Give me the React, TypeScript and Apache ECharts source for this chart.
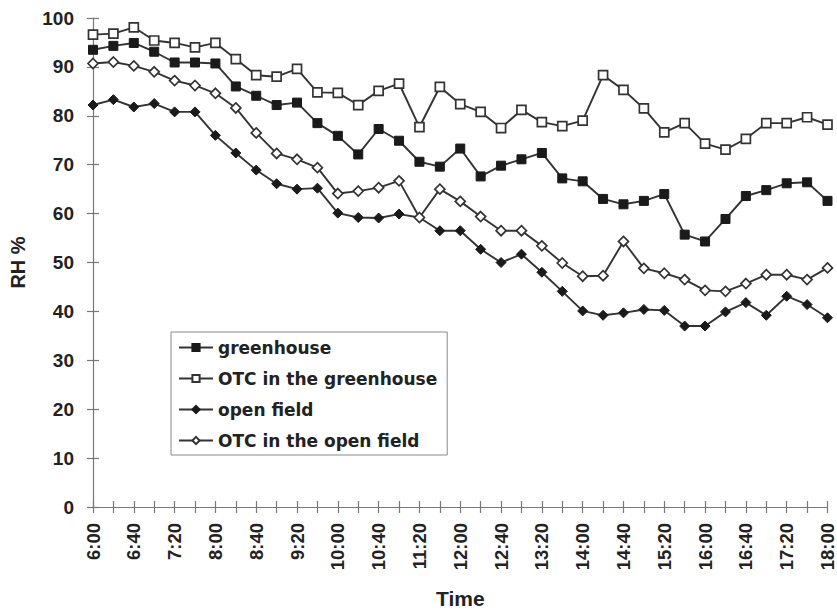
import React, { useEffect, useRef } from "react";
import * as echarts from "echarts";

const times = [
  "6:00", "6:20", "6:40", "7:00", "7:20", "7:40", "8:00", "8:20", "8:40", "9:00",
  "9:20", "9:40", "10:00", "10:20", "10:40", "11:00", "11:20", "11:40", "12:00", "12:20",
  "12:40", "13:00", "13:20", "13:40", "14:00", "14:20", "14:40", "15:00", "15:20", "15:40",
  "16:00", "16:20", "16:40", "17:00", "17:20", "17:40", "18:00",
];

const greenhouse = [
  93.5, 94.3, 94.9, 93.1, 90.9, 90.9, 90.7, 86.0, 84.1, 82.2,
  82.7, 78.5, 75.9, 72.1, 77.3, 74.9, 70.6, 69.6, 73.3, 67.6,
  69.8, 71.1, 72.4, 67.2, 66.6, 63.0, 61.9, 62.6, 64.0, 55.7,
  54.3, 58.9, 63.6, 64.8, 66.2, 66.4, 62.6,
];

const otcGreenhouse = [
  96.6, 96.8, 98.1, 95.4, 94.9, 94.0, 94.9, 91.6, 88.3, 88.0,
  89.6, 84.8, 84.7, 82.2, 85.1, 86.6, 77.7, 85.9, 82.4, 80.8,
  77.5, 81.2, 78.7, 77.9, 79.0, 88.3, 85.3, 81.5, 76.6, 78.5,
  74.3, 73.1, 75.3, 78.5, 78.5, 79.7, 78.2,
];

const openField = [
  82.2, 83.3, 81.8, 82.5, 80.8, 80.8, 76.0, 72.4, 68.9, 66.1,
  65.0, 65.2, 60.1, 59.2, 59.1, 59.9, 59.2, 56.5, 56.5, 52.7,
  50.0, 51.7, 48.0, 44.1, 40.1, 39.2, 39.7, 40.4, 40.2, 37.0,
  37.0, 39.9, 41.8, 39.2, 43.1, 41.4, 38.7,
];

const otcOpenField = [
  90.7, 91.0, 90.2, 89.0, 87.2, 86.2, 84.6, 81.6, 76.5, 72.3,
  71.1, 69.4, 64.1, 64.6, 65.3, 66.7, 59.2, 65.0, 62.5, 59.4,
  56.5, 56.5, 53.4, 49.9, 47.2, 47.3, 54.3, 48.8, 47.8, 46.5,
  44.3, 44.1, 45.7, 47.5, 47.5, 46.5, 48.9,
];

const seriesNames = [
  "greenhouse",
  "OTC in the greenhouse",
  "open field",
  "OTC in the open field",
];

const TICK_FONT = "Liberation Sans";
const LEGEND_FONT = "DejaVu Sans";
const AXIS_COLOR = "#777";
const LINE_COLOR = "#333";
const TEXT_COLOR = "#222";

export default function App() {
  const ref = useRef<HTMLDivElement>(null);

  useEffect(() => {
    if (!ref.current) return;
    const chart = echarts.init(ref.current, null, { renderer: "svg" });

    const mkSeries = (
      name: string,
      data: number[],
      symbol: string,
      filled: boolean,
      size: number
    ) => ({
      name,
      type: "line",
      xAxisIndex: 0,
      yAxisIndex: 0,
      data,
      symbol,
      symbolSize: size,
      showAllSymbol: true,
      lineStyle: { color: LINE_COLOR, width: 1.9 },
      itemStyle: filled
        ? { color: "#1a1a1a", borderColor: "#1a1a1a", borderWidth: 1 }
        : { color: "#fff", borderColor: LINE_COLOR, borderWidth: 1.7 },
      emphasis: { disabled: true },
      z: 3,
    });

    chart.setOption({
      animation: false,
      backgroundColor: "#fff",
      textStyle: { fontFamily: TICK_FONT },
      grid: { left: 93, right: 9, top: 18, bottom: 102, containLabel: false },
      legend: {
        orient: "vertical",
        left: 171,
        top: 332,
        width: 260,
        backgroundColor: "#fff",
        borderColor: "#888",
        borderWidth: 1,
        borderRadius: 0,
        padding: [7, 10, 6, 7],
        itemGap: 14,
        itemWidth: 34,
        itemHeight: 9,
        data: seriesNames,
        textStyle: {
          fontFamily: LEGEND_FONT,
          fontSize: 17,
          fontWeight: "bold",
          color: TEXT_COLOR,
        },
      },
      xAxis: [
        {
          type: "category",
          data: times,
          boundaryGap: false,
          position: "bottom",
          name: "Time",
          nameLocation: "middle",
          nameGap: 81,
          nameTextStyle: {
            fontFamily: TICK_FONT,
            fontSize: 21,
            fontWeight: "bold",
            color: TEXT_COLOR,
          },
          axisLine: { show: true, lineStyle: { color: AXIS_COLOR, width: 1.2 } },
          axisTick: { show: false },
          axisLabel: {
            interval: 1,
            rotate: 90,
            margin: 16,
            fontFamily: TICK_FONT,
            fontSize: 18.5,
            fontWeight: "bold",
            color: TEXT_COLOR,
          },
          splitLine: { show: false },
        },
        {
          type: "category",
          data: times,
          boundaryGap: false,
          position: "bottom",
          offset: -6,
          axisLine: { show: false },
          axisTick: {
            show: true,
            interval: 0,
            length: 12,
            lineStyle: { color: AXIS_COLOR, width: 1.2 },
          },
          axisLabel: { show: false },
          splitLine: { show: false },
        },
      ],
      yAxis: [
        {
          type: "value",
          min: 0,
          max: 100,
          interval: 10,
          position: "left",
          name: "RH %",
          nameLocation: "middle",
          nameRotate: 90,
          nameGap: 65,
          nameTextStyle: {
            fontFamily: TICK_FONT,
            fontSize: 20,
            fontWeight: "bold",
            color: TEXT_COLOR,
          },
          axisLine: { show: true, lineStyle: { color: AXIS_COLOR, width: 1.2 } },
          axisTick: { show: false },
          axisLabel: {
            margin: 19,
            fontFamily: TICK_FONT,
            fontSize: 19,
            fontWeight: "bold",
            color: TEXT_COLOR,
          },
          splitLine: { show: false },
        },
        {
          type: "value",
          min: 0,
          max: 100,
          interval: 10,
          position: "left",
          offset: -6,
          axisLine: { show: false },
          axisTick: {
            show: true,
            length: 12,
            lineStyle: { color: AXIS_COLOR, width: 1.2 },
          },
          axisLabel: { show: false },
          splitLine: { show: false },
        },
      ],
      series: [
        mkSeries(seriesNames[0], greenhouse, "rect", true, 9),
        mkSeries(seriesNames[1], otcGreenhouse, "rect", false, 9),
        mkSeries(seriesNames[2], openField, "diamond", true, 10),
        mkSeries(seriesNames[3], otcOpenField, "diamond", false, 10),
      ],
    });

    return () => chart.dispose();
  }, []);

  return (
    <div
      ref={ref}
      style={{ position: "fixed", left: 0, top: 0, width: 837, height: 614, background: "#fff" }}
    />
  );
}
